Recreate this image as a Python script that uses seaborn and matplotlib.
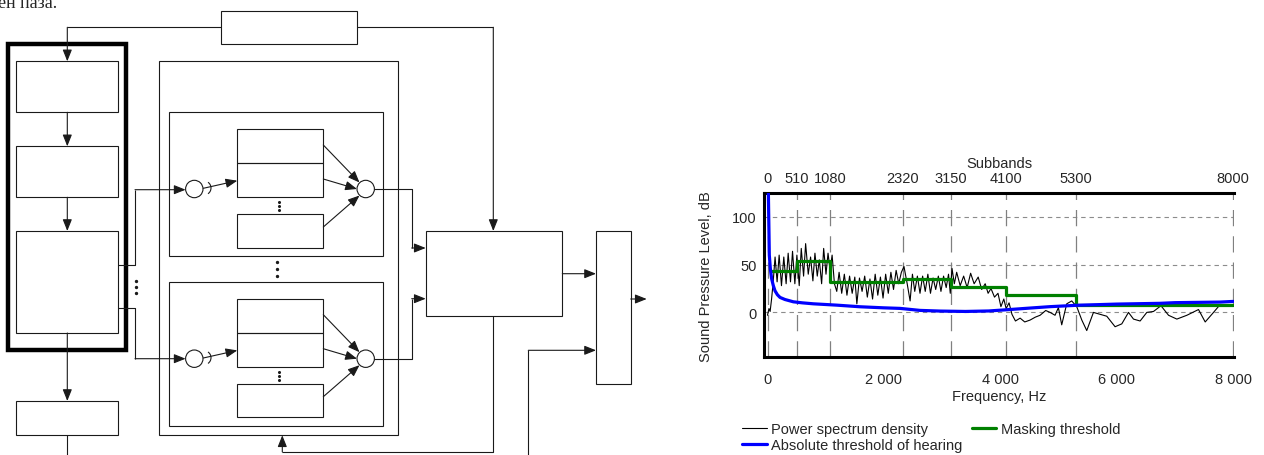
import numpy as np
import pandas as pd
import matplotlib
matplotlib.use("Agg")
import matplotlib.pyplot as plt
import seaborn as sns
from matplotlib.patches import Rectangle, Circle, Arc
from matplotlib.ticker import FixedLocator, MultipleLocator, FuncFormatter

# chart data
subbands = [0, 510, 1080, 2320, 3150, 4100, 5300, 8000]

psd_hz = [0, 25, 45, 70, 95, 130, 165, 200, 240, 280, 320, 355, 395, 430, 470, 505,
          545, 580, 620, 655, 700, 740, 780, 815, 855, 890, 930, 965, 1005, 1040, 1075,
          1110, 1150, 1190, 1230, 1275, 1320, 1365, 1410, 1455, 1500, 1535, 1580, 1625,
          1670, 1715, 1760, 1805, 1850, 1895, 1940, 1985, 2030, 2075, 2120, 2165, 2210,
          2255, 2300, 2345, 2400, 2450, 2490, 2530, 2575, 2620, 2665, 2710, 2755, 2800,
          2845, 2890, 2935, 2980, 3025, 3070, 3110, 3140, 3170, 3210, 3250, 3310, 3370,
          3430, 3490, 3550, 3620, 3680, 3740, 3790, 3840, 3900, 3960, 4010, 4060, 4100,
          4150, 4200, 4260, 4340, 4420, 4512, 4600, 4683, 4780, 4855, 4940, 4998, 5055,
          5141, 5227, 5313, 5400, 5485, 5600, 5714, 5829, 5972, 6087, 6202, 6288, 6402,
          6517, 6632, 6760, 6890, 7033, 7205, 7405, 7520, 7663, 7760, 7980]
psd_db = [-3, 4, 1, 14, 30, 58, 32, 60, 28, 58, 30, 62, 32, 64, 30, 60,
          28, 67, 38, 72, 40, 58, 33, 62, 38, 55, 30, 67, 40, 62, 44,
          60, 30, 22, 42, 20, 40, 18, 38, 20, 37, 9, 36, 22,
          38, 16, 35, 14, 40, 18, 37, 15, 40, 20, 42, 24, 44,
          30, 42, 48, 30, 12, 40, 22, 38, 20, 38, 22, 40, 20,
          36, 24, 38, 22, 38, 26, 40, 20, 46, 30, 42, 28, 38,
          26, 41, 30, 37, 24, 30, 20, 25, 16, 20, 6, 14, 4,
          10, -2, -9, -6, -10, -8, -5, -3, 2, 0, -3, 5, -13,
          9, 12, 6, -8, -19, 0, -2, -4, -15, -12, 0, -7, -9,
          0, 1, 7, -3, -7, -3, 3, -10, 0, 7, 8]

ath_hz = [15, 31, 50, 72, 100, 129, 170, 215, 300, 444, 600, 787, 1190, 1590, 1990,
          2277, 2620, 2965, 3400, 3800, 4115, 4500, 4850, 5335, 6000, 6740, 7000, 7777, 8000]
ath_db = [125, 60, 45, 35, 28, 22.6, 18.5, 15.7, 13.5, 11.1, 10, 9.0, 7.6, 5.9, 4.8,
          4.2, 2.1, 1.4, 1.0, 1.5, 2.8, 4.5, 6, 7.5, 8.7, 9.5, 10.2, 10.8, 11.5]

mask_edges = [60, 510, 1080, 2320, 3150, 4100, 5300, 8000]
mask_db = [43.5, 54, 31.4, 34.8, 26.4, 18.7, 8, 8]

W, H = 1264, 456
sns.set_style("white")
plt.rcParams['font.family'] = ['Liberation Sans', 'DejaVu Sans']
plt.rcParams['font.size'] = 10.5

fig = plt.figure(figsize=(W / 100, H / 100), dpi=100)

# ---------------- block diagram on the left ----------------
dg = fig.add_axes([0, 0, 660 / W, 1])
dg.set_xlim(0, 660)
dg.set_ylim(456, 0)
dg.axis('off')
lc = '#1a1a1a'
lw = 0.8


def box(x0, y0, x1, y1, w=lw):
    dg.add_patch(Rectangle((x0, y0), x1 - x0, y1 - y0, fill=False, ec=lc, lw=w))


def poly(xs, ys):
    dg.plot(xs, ys, color=lc, lw=lw, solid_capstyle='butt')


def arrow(x0, y0, x1, y1):
    dg.annotate('', xy=(x1, y1), xytext=(x0, y0),
                arrowprops=dict(arrowstyle='-|>,head_length=0.7,head_width=0.28',
                                mutation_scale=10, color=lc, lw=lw,
                                shrinkA=0, shrinkB=0))


def path_arrow(pts):
    xs = [p[0] for p in pts]
    ys = [p[1] for p in pts]
    if len(pts) > 2:
        poly(xs[:-1], ys[:-1])
    arrow(xs[-2], ys[-2], xs[-1], ys[-1])


# the caption line above the diagram is cut by the top edge in the original
dg.text(-2, 7.5, 'ен паза.', family=['Liberation Serif', 'DejaVu Serif'],
        fontsize=13, va='baseline', ha='left')

box(221, 12, 357, 45)
dg.add_patch(Rectangle((8.3, 45), 117.4, 306.3, fill=False, ec='black', lw=3.2))
box(15.7, 62.3, 118.3, 113.3)
box(15.7, 147.3, 118.3, 198.3)
box(15.7, 232, 118.3, 334)
box(15.7, 402, 118.3, 436.3)
box(159.3, 62.3, 398.3, 436.3)
box(169.3, 113.3, 382.7, 257.3)
box(169.3, 283, 382.7, 427.3)
box(425.7, 232, 562.3, 317)
box(596, 232, 630.7, 384.7)

for d in [0, 169.7]:
    box(237.3, 130 + d, 323.3, 164.3 + d)
    box(237.3, 164.3 + d, 323.3, 198.3 + d)
    box(237.3, 215 + d, 323.3, 248.7 + d)
    dg.add_patch(Circle((194.3, 190 + d), 8.7, fill=False, ec=lc, lw=lw))
    dg.add_patch(Circle((365.7, 190 + d), 8.7, fill=False, ec=lc, lw=lw))
    dg.add_patch(Arc((204, 189 + d), 14, 14, theta1=-55, theta2=55, ec=lc, lw=lw))
    arrow(203.3, 189.3 + d, 237.3, 181.7 + d)
    arrow(323.3, 146 + d, 359.5, 183.5 + d)
    arrow(323.3, 180 + d, 357, 190 + d)
    arrow(323.3, 228 + d, 359.5, 196.5 + d)
    dg.plot([279.3] * 3, [203 + d, 207 + d, 211 + d], ls='none', marker='o', ms=1.2, color=lc)

path_arrow([(374.4, 190), (411.7, 190), (411.7, 249), (425.7, 249)])
path_arrow([(374.4, 359.7), (411.7, 359.7), (411.7, 299.7), (425.7, 299.7)])
path_arrow([(118.3, 266.3), (135, 266.3), (135, 190.7), (185.6, 190.7)])
path_arrow([(118.3, 308.7), (135, 308.7), (135, 359.7), (185.6, 359.7)])
dg.plot([136] * 3, [282, 288, 294], ls='none', marker='o', ms=1.4, color=lc)
dg.plot([277.3] * 3, [263, 270, 277], ls='none', marker='o', ms=1.4, color=lc)

path_arrow([(221, 28.3), (67.3, 28.3), (67.3, 62.3)])
path_arrow([(357.3, 28.3), (493.3, 28.3), (493.3, 232)])
arrow(67.3, 113.3, 67.3, 147.3)
arrow(67.3, 198.3, 67.3, 232)
arrow(67.3, 334, 67.3, 402)
poly([67.3, 67.3], [436.3, 456])
path_arrow([(493.3, 317), (493.3, 453), (282.3, 453), (282.3, 436.3)])
arrow(562.3, 274.7, 596, 274.7)
arrow(630.7, 300, 646.7, 300)
path_arrow([(528.3, 456), (528.3, 351.3), (596, 351.3)])

# ---------------- spectrum chart on the right ----------------
ax = fig.add_axes([764.3 / W, 1 - 358.3 / H, 470 / W, 164.3 / H])
ax.set_xlim(-55, 8020)
ax.set_ylim(-47, 125)

for v in [0, 50, 100]:
    ax.axhline(v, color='#8c8c8c', lw=0.8, dashes=(4, 3.5), zorder=1)
for s in subbands:
    ax.axvline(s, color='#808080', lw=0.9, dashes=(13, 8), zorder=1)

psd = pd.DataFrame({'hz': psd_hz, 'db': psd_db})
ath = pd.DataFrame({'hz': ath_hz, 'db': ath_db})
msk = pd.DataFrame({'hz': mask_edges, 'db': mask_db})

sns.lineplot(data=psd, x='hz', y='db', color='black', lw=0.8, estimator=None,
             ax=ax, label='Power spectrum density', zorder=3)
sns.lineplot(data=ath, x='hz', y='db', color='#0000ff', lw=2.3, estimator=None,
             ax=ax, label='Absolute threshold of hearing', zorder=5)
sns.lineplot(data=msk, x='hz', y='db', color='#008000', lw=2.3, estimator=None,
             drawstyle='steps-post', ax=ax, label='Masking threshold', zorder=4)

h, l = ax.get_legend_handles_labels()
ax.get_legend().remove()
fig.legend([h[0], h[1], h[2]], [l[0], l[1], l[2]], ncol=2, frameon=False,
           loc='upper left', bbox_to_anchor=(742 / W, 1 - 423 / H),
           borderaxespad=0, borderpad=0, handlelength=1.7, handletextpad=0.32,
           columnspacing=0.6, labelspacing=0.12, fontsize=10.5)

for side in ['left', 'top', 'bottom']:
    ax.spines[side].set_linewidth(2.2)
    ax.spines[side].set_color('black')
ax.spines['right'].set_visible(False)

ax.xaxis.set_major_locator(FixedLocator([0, 2000, 4000, 6000, 8000]))
ax.xaxis.set_minor_locator(MultipleLocator(2000 / 6))
ax.xaxis.set_major_formatter(FuncFormatter(lambda v, p: f"{int(v):,}".replace(',', ' ')))
ax.yaxis.set_major_locator(FixedLocator([0, 50, 100]))
ax.yaxis.set_minor_locator(MultipleLocator(25))
ax.tick_params(axis='both', which='both', direction='out', color='#333333', width=0.8)
ax.tick_params(axis='x', which='major', length=4.5, pad=6)
ax.tick_params(axis='x', which='minor', length=2.5)
ax.tick_params(axis='y', which='major', length=2.5, pad=3)
ax.tick_params(axis='y', which='minor', length=2.5)
ax.set_xlabel('Frequency, Hz', labelpad=2)
ax.set_ylabel('Sound Pressure Level, dB', labelpad=14)

top = ax.secondary_xaxis('top')
top.set_xticks(subbands)
top.set_xticklabels([str(s) for s in subbands])
top.tick_params(length=0, pad=5.5)
top.spines['top'].set_visible(False)
top.set_xlabel('Subbands', labelpad=3)

fig.savefig('out.png', dpi=100)
